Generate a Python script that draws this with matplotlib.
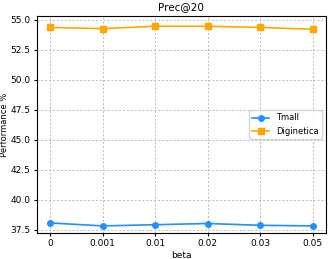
import numpy as np
import matplotlib.pyplot as plt

betas = ['0', '0.001', '0.01', '0.02', '0.03', '0.05']
tmall = [38.05, 37.8, 37.9, 38.0, 37.85, 37.8]
diginetica = [54.35, 54.25, 54.45, 54.45, 54.35, 54.2]

x = np.arange(len(betas))
fig, ax = plt.subplots(figsize=(3.35, 2.59), dpi=100)
ax.plot(x, tmall, marker='o', color='#1e90ff', markersize=4, linewidth=1.2, label='Tmall')
ax.plot(x, diginetica, marker='s', color='#ffa500', markersize=4, linewidth=1.2, label='Diginetica')
ax.set_xticks(x)
ax.set_xticklabels(betas)
ax.set_ylim(37.2, 55.3)
ax.set_yticks([37.5, 40.0, 42.5, 45.0, 47.5, 50.0, 52.5, 55.0])
ax.tick_params(labelsize=6.5, length=2.5, pad=2)
ax.grid(True, linestyle=(0, (2, 2)), color='#bbbbbb', linewidth=0.7)
ax.set_title('Prec@20', fontsize=7.5, pad=4)
ax.set_xlabel('beta', fontsize=6.5, labelpad=2)
ax.set_ylabel('Performance %', fontsize=6, labelpad=1)
ax.legend(loc='center right', fontsize=6, bbox_to_anchor=(1.0, 0.5))
fig.subplots_adjust(left=0.11, right=0.973, top=0.938, bottom=0.1)
fig.savefig('out.png')
